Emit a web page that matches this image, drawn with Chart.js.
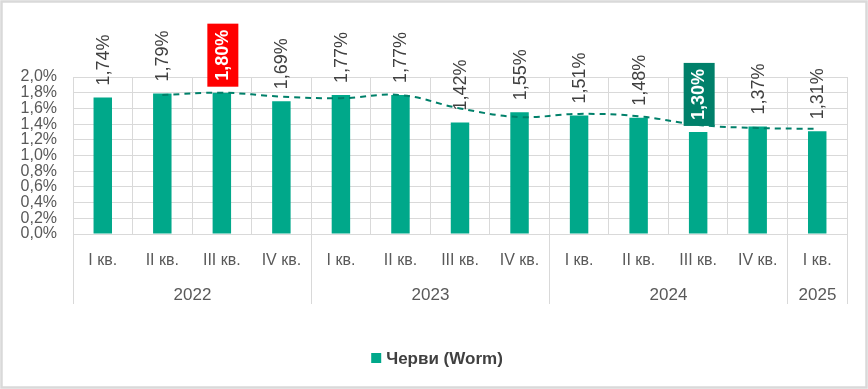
<!DOCTYPE html>
<html>
<head>
<meta charset="utf-8">
<script src="https://cdn.jsdelivr.net/npm/chart.js@4.4.0/dist/chart.umd.min.js"></script>
<style>
  html, body { margin: 0; padding: 0; background: #fff; }
  #wrap { width: 868px; height: 389px; }
</style>
</head>
<body>
<div id="wrap"><canvas id="chart" width="868" height="389"></canvas></div>
<script>
// Данни
const quarters = ['I кв.', 'II кв.', 'III кв.', 'IV кв.', 'I кв.', 'II кв.', 'III кв.', 'IV кв.', 'I кв.', 'II кв.', 'III кв.', 'IV кв.', 'I кв.'];
const yearLabels = ['2022', '2023', '2024', '2025'];
const yearSpans = [4, 4, 4, 1];
const wormValues = [1.74, 1.79, 1.80, 1.69, 1.77, 1.77, 1.42, 1.55, 1.51, 1.48, 1.30, 1.37, 1.31];
const trendValues = [null, 1.77, 1.80, 1.75, 1.73, 1.77, 1.60, 1.49, 1.53, 1.50, 1.39, 1.35, 1.34];
const yTicks = [0, 0.2, 0.4, 0.6, 0.8, 1.0, 1.2, 1.4, 1.6, 1.8, 2.0];

const FONT = "'Liberation Sans Narrow', 'Arial Narrow', 'Liberation Sans', sans-serif";
const BAR_COLOR = '#00a88a';
const highlightBoxes = { 2: '#ff0000', 10: '#00806a' }; // кутийки около етикетите

const fmt = (v, d) => v.toFixed(d).replace('.', ',') + '%';

// фон + рамка
const framePlugin = {
  id: 'frame',
  beforeDraw(chart) {
    const ctx = chart.ctx;
    ctx.save();
    ctx.fillStyle = '#fff';
    ctx.fillRect(0, 0, chart.width, chart.height);
    ctx.restore();
  },
  afterDraw(chart) {
    const ctx = chart.ctx;
    ctx.save();
    ctx.strokeStyle = '#d9d9d9';
    ctx.lineWidth = 2.5;
    ctx.strokeRect(1.5, 1.5, chart.width - 3, chart.height - 3);
    ctx.restore();
  }
};

// етикети над стълбовете (завъртени)
const labelPlugin = {
  id: 'barLabels',
  afterDatasetsDraw(chart) {
    const ctx = chart.ctx;
    const meta = chart.getDatasetMeta(0);
    meta.data.forEach((bar, i) => {
      const txt = fmt(wormValues[i], 2);
      const box = highlightBoxes[i];
      ctx.save();
      ctx.translate(bar.x + 1, bar.y - 12);
      ctx.rotate(-Math.PI / 2);
      ctx.font = (box ? 'bold ' : '') + '18px ' + FONT;
      const w = ctx.measureText(txt).width;
      if (box) {
        ctx.fillStyle = box;
        ctx.fillRect(-6, -15.5, w + 12, 31);
        ctx.fillStyle = '#fff';
      } else {
        ctx.fillStyle = '#404040';
      }
      ctx.textAlign = 'left';
      ctx.textBaseline = 'middle';
      ctx.fillText(txt, 0, 0);
      ctx.restore();
    });
  }
};

// години под тримесечията + разделители, легенда
const axisPlugin = {
  id: 'yearAxis',
  afterDraw(chart) {
    const ctx = chart.ctx;
    const x = chart.scales.x;
    ctx.save();
    ctx.strokeStyle = '#d9d9d9';
    ctx.lineWidth = 1;
    ctx.fillStyle = '#595959';
    ctx.font = '17px ' + FONT;
    ctx.textAlign = 'center';
    ctx.textBaseline = 'middle';
    let start = 0;
    const edge = k => Math.round(x.getPixelForValue(k - 0.5)) + 0.5;
    ctx.beginPath();
    ctx.moveTo(edge(0), x.top);
    ctx.lineTo(edge(0), x.top + 70);
    ctx.stroke();
    yearLabels.forEach((yr, g) => {
      const end = start + yearSpans[g];
      const a = edge(start), b = edge(end);
      ctx.beginPath();
      ctx.moveTo(b, x.top);
      ctx.lineTo(b, x.top + 70);
      ctx.stroke();
      ctx.fillText(yr, (a + b) / 2, x.top + 61);
      start = end;
    });

    // легенда
    const text = 'Черви (Worm)';
    ctx.font = 'bold 17px ' + FONT;
    const tw = ctx.measureText(text).width;
    const total = 10 + 5 + tw;
    const lx = chart.width / 2 + 3 - total / 2;
    const ly = 358;
    ctx.fillStyle = BAR_COLOR;
    ctx.fillRect(lx, ly - 5, 10, 10);
    ctx.fillStyle = '#404040';
    ctx.textAlign = 'left';
    ctx.fillText(text, lx + 15, ly + 1);
    ctx.restore();
  }
};

new Chart(document.getElementById('chart'), {
  data: {
    labels: quarters,
    datasets: [
      {
        type: 'bar',
        label: 'Черви (Worm)',
        data: wormValues,
        backgroundColor: BAR_COLOR,
        categoryPercentage: 1,
        barPercentage: 0.31,
        order: 1
      },
      {
        type: 'line',
        label: 'trend',
        data: trendValues,
        borderColor: '#00806a',
        borderWidth: 2,
        borderDash: [6, 5],
        tension: 0.4,
        pointRadius: 0,
        fill: false,
        order: 0
      }
    ]
  },
  options: {
    responsive: false,
    animation: false,
    layout: { padding: { top: 77, right: 21, left: 0, bottom: 0 } },
    plugins: { legend: { display: false }, tooltip: { enabled: false } },
    scales: {
      x: {
        offset: true,
        grid: { offset: true, color: '#d9d9d9', drawTicks: false },
        border: { color: '#d9d9d9' },
        ticks: { color: '#595959', font: { family: FONT, size: 16 }, padding: 17, maxRotation: 0, autoSkip: false },
        afterFit: s => { s.height = 155; }
      },
      y: {
        min: 0,
        max: 2,
        afterBuildTicks: s => { s.ticks = yTicks.map(v => ({ value: v })); },
        grid: { color: '#d9d9d9', drawTicks: false },
        border: { display: false },
        ticks: { color: '#595959', font: { family: FONT, size: 16 }, padding: 16, autoSkip: false, callback: v => fmt(v, 1) },
        afterFit: s => { s.width = 73; }
      }
    }
  },
  plugins: [framePlugin, labelPlugin, axisPlugin]
});
</script>
</body>
</html>
